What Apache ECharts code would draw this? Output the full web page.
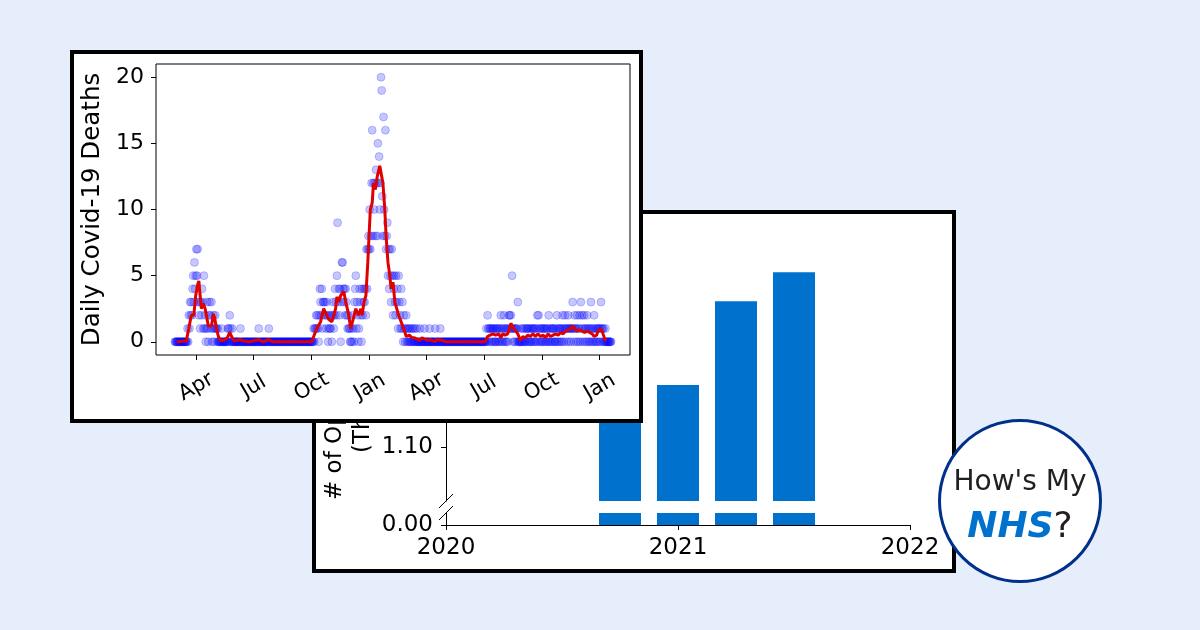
<!DOCTYPE html>
<html>
<head>
<meta charset="utf-8">
<script src="https://cdn.jsdelivr.net/npm/echarts/dist/echarts.min.js"></script>
<style>
html,body{margin:0;padding:0;}
body{width:1200px;height:630px;background:#e6eefc;position:relative;overflow:hidden;font-family:'DejaVu Sans',sans-serif;}
.card{position:absolute;box-sizing:border-box;border:4px solid #000;background:#fff;}
#back{left:312px;top:210px;width:644px;height:363px;}
#front{left:70px;top:50px;width:573px;height:373px;}
#backChart{width:636px;height:355px;}
#frontChart{width:565px;height:365px;}
#logo{position:absolute;left:938px;top:419px;width:164px;height:164px;box-sizing:border-box;border:3.5px solid #00308a;border-radius:50%;background:#fff;}
#logo .l1{position:absolute;left:0;right:0;top:45px;text-align:center;font-size:28px;line-height:28px;color:#231f20;}
#logo .l2{position:absolute;left:0;right:0;top:85px;text-align:center;font-size:36px;line-height:36px;color:#231f20;}
#logo .nhs{font-weight:bold;font-style:italic;color:#0072ce;}
</style>
</head>
<body>
<div id="back" class="card"><div id="backChart"></div></div>
<div id="front" class="card"><div id="frontChart"></div></div>
<div id="logo"><div class="l1">How's My</div><div class="l2"><span class="nhs">NHS</span>?</div></div>
<script>
// daily deaths, one value per day from 27 Feb 2020
var feb2020 = [0,0,0];
var mar2020 = [0,0,0,0,0,0,0,0,0,0,0,0,0,0,0,0,0, 1,0,2,1,3,2,3,2,4,5,3,6,4,5];
var apr2020 = [7,5,7,3,2, 3,1,3,2,4, 3,1,5,1,2, 0,1,3,1,0, 2,3,2,1,3, 0,1,2,0,1];
var may2020 = [2,1,1,0,1, 0,0,0,0,0, 1,0,0,0,0, 0,0,0,0,0, 1,1,0,2,1, 0,0,1,0,0, 0];
var jun2020 = [0,0,0,0,0, 0,0,0,0,1, 0,0,0,0,0, 0,0,0,0,0, 0,0,0,0,0, 0,0,0,0,0];
var jul2020 = [0,0,0,0,0, 0,0,0,1,0, 0,0,0,0,0, 0,0,0,0,0, 0,0,0,0,1, 0,0,0,0,0, 0];
var aug2020 = [0,0,0,0,0, 0,0,0,0,0, 0,0,0,0,0, 0,0,0,0,0, 0,0,0,0,0, 0,0,0,0,0, 0];
var sep2020 = [0,0,0,0,0, 0,0,0,0,0, 0,0,0,0,0, 0,0,0,0,0, 0,0,0,0,0, 0,0,0,0,0];
var oct2020 = [0,0,0,1,0, 1,1,2,1,2, 1,0,2,4,3, 2,4,1,3,3, 2,3,2,1,3, 2,0,1,2,1, 1];
var nov2020 = [2,0,2,3,1, 2,4,3,2,5, 9,3,4,2,4, 0,3,6,6,4, 3,4,2,4,3, 2,1,2,1,1];
var dec2020 = [0,0,1,0,2, 1,0,3,4,5, 1,3,2,0,1, 4,3,2,0,4, 2,3,4,3,4, 2,7,4,7,8, 7];
var jan2021 = [10,7,8,12,16, 8,12,10,12,8, 13,12,8,15,12, 14,10,12,20,19, 11,8,17,10,8, 16,7,8,9,5, 7];
var feb2021 = [4,7,5,3,7, 5,2,4,5,3, 2,5,3,4,1, 5,3,2,1,4, 1,3,0,2,1, 0,1,2];
var mar2021 = [0,1,0,1,0, 1,0,0,1,0, 1,0,0,1,0, 0,1,0,0,0, 0,1,0,0,0, 0,0,0,1,0, 0];
var apr2021 = [0,0,0,0,0, 1,0,0,0,0, 0,0,0,0,1, 0,0,0,0,0, 0,0,1,0,0, 0,0,0,0,0];
var may2021 = [0,0,0,0,0, 0,0,0,0,0, 0,0,0,0,0, 0,0,0,0,0, 0,0,0,0,0, 0,0,0,0,0, 0];
var jun2021 = [0,0,0,0,0, 0,0,0,0,0, 0,0,0,0,0, 0,0,0,0,0, 0,0,0,0,0, 0,0,0,0,0];
var jul2021 = [0,0,0,0,1, 0,2,1,0,1, 1,0,1,0,1, 1,0,1,0,0, 1,1,0,1,0, 1,0,2,1,0, 1];
var aug2021 = [0,2,1,0,1, 0,1,0,1,2, 2,1,2,1,5, 1,0,1,0,1, 1,0,1,3,0, 0,0,0,1,0, 0];
var sep2021 = [1,0,1,0,0, 1,0,1,1,0, 1,0,0,1,0, 1,1,0,1,0, 1,0,1,2,0, 2,1,0,1,0];
var oct2021 = [1,0,1,0,1, 1,0,0,1,1, 0,2,0,1,0, 1,0,1,1,0, 1,0,0,1,2, 0,1,0,1,1, 0];
var nov2021 = [1,0,2,1,0, 1,2,1,0,1, 1,2,0,1,1, 0,1,1,3,1, 0,2,1,1,0, 2,1,0,1,2];
var dec2021 = [0,3,1,2,0, 1,2,0,1,1, 0,2,1,0,1, 0,1,3,0,1, 0,1,2,0,1, 0,1,0,1,1, 0];
var jan2022 = [1,0,3,1,1, 0,1,0,0,1, 0,0,0,0,0, 0,0,0,0];

// rolling average (red line)
var avgDates = ['2020-03-01','2020-03-16','2020-03-20','2020-03-24','2020-03-28','2020-03-31','2020-04-03','2020-04-05','2020-04-07','2020-04-09',
  '2020-04-12','2020-04-15','2020-04-17','2020-04-20','2020-04-23','2020-04-25','2020-04-28','2020-04-30','2020-05-03','2020-05-06',
  '2020-05-09','2020-05-14','2020-05-20','2020-05-24','2020-05-28','2020-05-31','2020-06-09','2020-06-16','2020-06-25','2020-07-09',
  '2020-07-16','2020-07-25','2020-08-01','2020-10-01','2020-10-04','2020-10-09','2020-10-12','2020-10-15','2020-10-20','2020-10-23',
  '2020-10-28','2020-11-02','2020-11-08','2020-11-10','2020-11-13','2020-11-16','2020-11-21','2020-11-24','2020-11-28','2020-12-02',
  '2020-12-04','2020-12-10','2020-12-14','2020-12-18','2020-12-20','2020-12-23','2020-12-26','2020-12-29','2021-01-02','2021-01-05',
  '2021-01-07','2021-01-10','2021-01-13','2021-01-17','2021-01-20','2021-01-22','2021-01-25','2021-01-27','2021-01-30','2021-02-02',
  '2021-02-04','2021-02-07','2021-02-10','2021-02-13','2021-02-16','2021-02-20','2021-02-24','2021-02-28','2021-03-05','2021-03-09',
  '2021-03-13','2021-03-17','2021-03-21','2021-03-25','2021-03-29','2021-04-03','2021-04-08','2021-04-14','2021-04-18','2021-04-26',
  '2021-05-02','2021-07-03','2021-07-07','2021-07-11','2021-07-16','2021-07-20','2021-07-25','2021-07-28','2021-07-31','2021-08-04',
  '2021-08-08','2021-08-11','2021-08-13','2021-08-15','2021-08-18','2021-08-21','2021-08-24','2021-08-28','2021-09-01','2021-09-05',
  '2021-09-09','2021-09-13','2021-09-17','2021-09-21','2021-09-25','2021-09-29','2021-10-03','2021-10-07','2021-10-11','2021-10-15',
  '2021-10-19','2021-10-23','2021-10-27','2021-10-31','2021-11-04','2021-11-08','2021-11-12','2021-11-16','2021-11-19','2021-11-22',
  '2021-11-26','2021-11-30','2021-12-04','2021-12-08','2021-12-12','2021-12-16','2021-12-20','2021-12-23','2021-12-27','2021-12-30',
  '2022-01-04','2022-01-07','2022-01-09','2022-01-12'];
var avgValues = [0,0.05,1.0,2.0,2.0,3.5,4.3,4.6,3.5,2.5,
  2.9,2.5,2.4,1.2,1.2,1.2,2.1,1.8,1.0,0.4,
  0.1,0.1,0.3,0.7,0.3,0.05,0.15,0.05,0,0.15,
  0,0.15,0,0,0.1,1.0,1.0,1.5,2.5,2.6,
  1.7,1.5,2.5,3.4,3.0,3.5,3.8,3.0,2.2,1.0,
  1.0,2.5,2.0,2.5,2.0,3.0,3.5,6.0,10.0,10.5,
  12.0,11.5,12.5,13.3,13.3,12.0,10.0,8.0,6.0,5.0,
  4.0,4.5,3.0,3.0,2.0,1.5,1.0,0.4,0.5,0.3,
  0.3,0.2,0.1,0.3,0.2,0.1,0.15,0,0.15,0.1,
  0,0,0.4,0.5,0.6,0.5,0.6,0.3,0.6,0.5,
  0.6,1.0,1.4,1.2,1.0,0.8,0.6,0.1,0.4,0.3,
  0.5,0.4,0.6,0.4,0.6,0.4,0.5,0.3,0.6,0.4,
  0.5,0.6,0.5,0.7,0.6,0.8,0.9,1.0,1.2,1.0,
  0.8,0.9,0.8,0.7,0.8,0.7,0.6,0.4,0.5,0.9,
  0.9,0.8,0.2,0.1];

var monthTicks = ['2020-04-01','2020-07-01','2020-10-01','2021-01-01','2021-04-01','2021-07-01','2021-10-01','2022-01-01'];
var monthNames = ['Jan','Feb','Mar','Apr','May','Jun','Jul','Aug','Sep','Oct','Nov','Dec'];
var deathTicks = [0,5,10,15,20];

// bar chart (broken y axis)
var barYears = [2020.75, 2021.0, 2021.25, 2021.5];
var barValues = [1.17, 1.216, 1.372, 1.426];
var yearTicks = [2020, 2021, 2022];
var upperTicks = [1.1, 1.2, 1.3, 1.4, 1.5];
var lowerTicks = [0];

function day(s){ return +new Date(s + 'T00:00:00'); }

var dailyDeaths = [].concat(feb2020,mar2020,apr2020,may2020,jun2020,jul2020,aug2020,sep2020,oct2020,nov2020,dec2020,
  jan2021,feb2021,mar2021,apr2021,may2021,jun2021,jul2021,aug2021,sep2021,oct2021,nov2021,dec2021,jan2022);
var dailyPoints = dailyDeaths.map(function(v,i){ return [+new Date(2020,1,27+i), v]; });
var avgPoints = avgDates.map(function(d,i){ return [day(d), avgValues[i]]; });
var tickTimes = monthTicks.map(day);

var font = 'DejaVu Sans';

var frontChart = echarts.init(document.getElementById('frontChart'));
frontChart.setOption({
    animation: false,
    textStyle: {fontFamily: font},
    grid: {left: 82, top: 10, right: 9, bottom: 64, show: true, borderColor: '#000', borderWidth: 1, outerBoundsMode: 'none'},
    xAxis: {
        type: 'value',
        min: day('2020-01-28'),
        max: day('2022-02-18'),
        axisLine: {show: false, onZero: false},
        splitLine: {show: false},
        axisTick: {show: true, length: 5, customValues: tickTimes, lineStyle: {color: '#000'}},
        axisLabel: {
            customValues: tickTimes,
            formatter: function(v){ return monthNames[new Date(v).getMonth()]; },
            rotate: 30, align: 'center', verticalAlign: 'middle', margin: 32,
            fontSize: 21, color: '#000', fontFamily: font
        }
    },
    yAxis: {
        type: 'value', min: -1, max: 21,
        name: 'Daily Covid-19 Deaths', nameLocation: 'middle', nameGap: 39,
        nameTextStyle: {fontSize: 24.5, color: '#000', fontFamily: font},
        axisLine: {show: false, onZero: false},
        splitLine: {show: false},
        axisTick: {show: true, length: 5, customValues: deathTicks, lineStyle: {color: '#000'}},
        axisLabel: {customValues: deathTicks, fontSize: 22, color: '#000', margin: 12, fontFamily: font}
    },
    series: [
        {
            type: 'scatter',
            data: dailyPoints,
            symbolSize: 8,
            itemStyle: {color: '#0000ff', borderColor: '#0000ff', borderWidth: 1, opacity: 0.22}
        },
        {
            type: 'line',
            data: avgPoints,
            showSymbol: false,
            lineStyle: {color: '#e00000', width: 3},
            z: 3
        }
    ]
});

var barData = barYears.map(function(y,i){ return [y, barValues[i]]; });
var barStyle = {color: '#0072ce'};

var backChart = echarts.init(document.getElementById('backChart'));
backChart.setOption({
    animation: false,
    textStyle: {fontFamily: font},
    grid: [
        {left: 130, right: 42, top: 18.5, height: 268.5, outerBoundsMode: 'none'},
        {left: 130, right: 42, top: 299, height: 12, outerBoundsMode: 'none'}
    ],
    xAxis: [
        {gridIndex: 0, type: 'value', min: 2020, max: 2022, show: false},
        {
            gridIndex: 1, type: 'value', min: 2020, max: 2022,
            axisLine: {lineStyle: {color: '#000', width: 1}},
            splitLine: {show: false},
            axisTick: {length: 5, customValues: yearTicks, lineStyle: {color: '#000'}},
            axisLabel: {customValues: yearTicks, formatter: function(v){ return String(v); }, fontSize: 23, color: '#000', margin: 12, fontFamily: font}
        }
    ],
    yAxis: [
        {
            gridIndex: 0, type: 'value', min: 1.0, max: 1.5,
            axisLine: {show: true, onZero: false, lineStyle: {color: '#000'}},
            splitLine: {show: false},
            axisTick: {show: true, length: 5, customValues: upperTicks, lineStyle: {color: '#000'}},
            axisLabel: {customValues: upperTicks, formatter: function(v){ return v.toFixed(2); }, fontSize: 23, color: '#000', margin: 13, fontFamily: font}
        },
        {
            gridIndex: 1, type: 'value', min: 0, max: 0.03,
            axisLine: {show: true, onZero: false, lineStyle: {color: '#000'}},
            splitLine: {show: false},
            axisTick: {show: true, length: 5, customValues: lowerTicks, lineStyle: {color: '#000'}},
            axisLabel: {customValues: lowerTicks, formatter: function(v){ return v.toFixed(2); }, fontSize: 23, color: '#000', margin: 13, fontFamily: font}
        }
    ],
    series: [
        {type: 'bar', xAxisIndex: 0, yAxisIndex: 0, data: barData, barWidth: 42, clip: true, itemStyle: barStyle},
        {type: 'bar', xAxisIndex: 1, yAxisIndex: 1, data: barData, barWidth: 42, clip: true, itemStyle: barStyle}
    ]
});

// break marks and the (mostly hidden) y label
var pUp = backChart.convertToPixel({gridIndex: 0}, [2020, 1.0]);
var pLow = backChart.convertToPixel({gridIndex: 1}, [2020, 0.03]);
function slash(p){
    return {type: 'line', shape: {x1: p[0]-7, y1: p[1]+7, x2: p[0]+7, y2: p[1]-7}, style: {stroke: '#000', lineWidth: 1}, z: 10};
}
function vText(txt, x, y){
    return {type: 'text', x: x, y: y, rotation: Math.PI/2,
        style: {text: txt, fill: '#000', font: '23px "DejaVu Sans"', align: 'left', textAlign: 'left', verticalAlign: 'middle', textVerticalAlign: 'middle'}};
}
backChart.setOption({
    graphic: [slash(pUp), slash(pLow), vText('# of Operations', 19, 286), vText('(Thousands)', 47, 239)]
});
</script>
</body>
</html>
